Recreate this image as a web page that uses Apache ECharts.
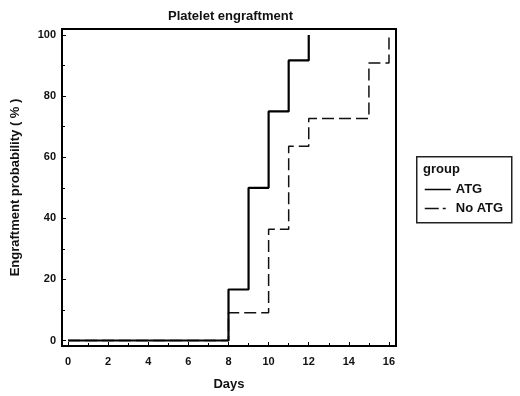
<!DOCTYPE html>
<html>
<head>
<meta charset="utf-8">
<script src="https://cdn.jsdelivr.net/npm/echarts@6/dist/echarts.min.js"></script>
<style>
  html, body { margin: 0; padding: 0; background: #fff; }
  #chart { width: 520px; height: 396px; }
</style>
</head>
<body>
<div id="chart"></div>
<script>
// step points [day, probability %]
const atgData = [[0, 0], [8, 16.7], [9, 50], [10, 75], [11, 91.7], [12, 100]];
const noAtgData = [[0, 0], [8, 9.1], [10, 36.4], [11, 63.6], [12, 72.7], [15, 90.9], [16, 100]];
const xMajor = [0, 2, 4, 6, 8, 10, 12, 14, 16];
const xMinor = [1, 3, 5, 7, 9, 11, 13, 15];
const yMajor = [0, 20, 40, 60, 80, 100];
const yMinor = [10, 30, 50, 70, 90];

const font = "Liberation Sans";
const chart = echarts.init(document.getElementById("chart"));

chart.setOption({
  animation: false,
  title: {
    text: "Platelet engraftment",
    left: 163,
    top: 5,
    textStyle: { fontFamily: font, fontSize: 13, fontWeight: "bold", color: "#111" },
  },
  grid: {
    left: 62, right: 124, top: 29, bottom: 48,
    show: true, borderColor: "#000", borderWidth: 2, backgroundColor: "#fff",
  },
  xAxis: [
    {
      type: "value", min: -0.3, max: 16.35,
      name: "Days", nameLocation: "middle", nameGap: 32,
      nameTextStyle: { fontFamily: font, fontSize: 13, fontWeight: "bold", color: "#111" },
      axisLine: { onZero: false, lineStyle: { color: "#000", width: 2 } },
      axisTick: { inside: true, length: 4, customValues: xMajor, lineStyle: { color: "#000" } },
      axisLabel: { customValues: xMajor, margin: 10, fontFamily: font, fontSize: 11, fontWeight: "bold", color: "#111" },
      splitLine: { show: false },
    },
    {
      type: "value", min: -0.3, max: 16.35, position: "bottom",
      axisLine: { show: false, onZero: false },
      axisTick: { inside: true, length: 3, customValues: xMinor, lineStyle: { color: "#000" } },
      axisLabel: { show: false, customValues: xMinor },
      splitLine: { show: false },
    },
  ],
  yAxis: [
    {
      type: "value", min: -1.8, max: 102,
      name: "Engraftment probability ( % )", nameLocation: "middle", nameGap: 40,
      nameTextStyle: { fontFamily: font, fontSize: 13, fontWeight: "bold", color: "#111" },
      axisLine: { show: true, onZero: false, lineStyle: { color: "#000", width: 2 } },
      axisTick: { show: true, inside: true, length: 4, customValues: yMajor, lineStyle: { color: "#000" } },
      axisLabel: { customValues: yMajor, margin: 6, fontFamily: font, fontSize: 11, fontWeight: "bold", color: "#111" },
      splitLine: { show: false },
    },
    {
      type: "value", min: -1.8, max: 102, position: "left",
      axisLine: { show: false, onZero: false },
      axisTick: { show: true, inside: true, length: 3, customValues: yMinor, lineStyle: { color: "#000" } },
      axisLabel: { show: false, customValues: yMinor },
      splitLine: { show: false },
    },
  ],
  legend: {
    orient: "vertical",
    left: 419, top: 178,
    itemWidth: 26, itemHeight: 11, itemGap: 6,
    itemStyle: { opacity: 0 },
    textStyle: { fontFamily: font, fontSize: 13, fontWeight: "bold", color: "#111" },
    data: [
      { name: "ATG", lineStyle: { width: 1.5 } },
      { name: "No ATG", lineStyle: { width: 1.5, type: [14, 4, 3, 20] } },
    ],
  },
  graphic: [
    {
      type: "rect", left: 416, top: 156,
      shape: { width: 95, height: 66 },
      style: { fill: "#fff", stroke: "#222", lineWidth: 1.5 },
      z: 0,
    },
    {
      type: "text", left: 423, top: 163,
      style: { text: "group", fontFamily: font, fontSize: 13, fontWeight: "bold", fill: "#111" },
    },
  ],
  series: [
    {
      name: "No ATG", type: "line", step: "end", symbol: "none",
      xAxisIndex: 0, yAxisIndex: 0,
      data: noAtgData,
      lineStyle: { color: "#111", width: 1.5, type: [12, 5] },
      itemStyle: { color: "#111" },
    },
    {
      name: "ATG", type: "line", step: "end", symbol: "none",
      xAxisIndex: 0, yAxisIndex: 0,
      data: atgData,
      lineStyle: { color: "#000", width: 2.2 },
      itemStyle: { color: "#000" },
    },
  ],
});
</script>
</body>
</html>
